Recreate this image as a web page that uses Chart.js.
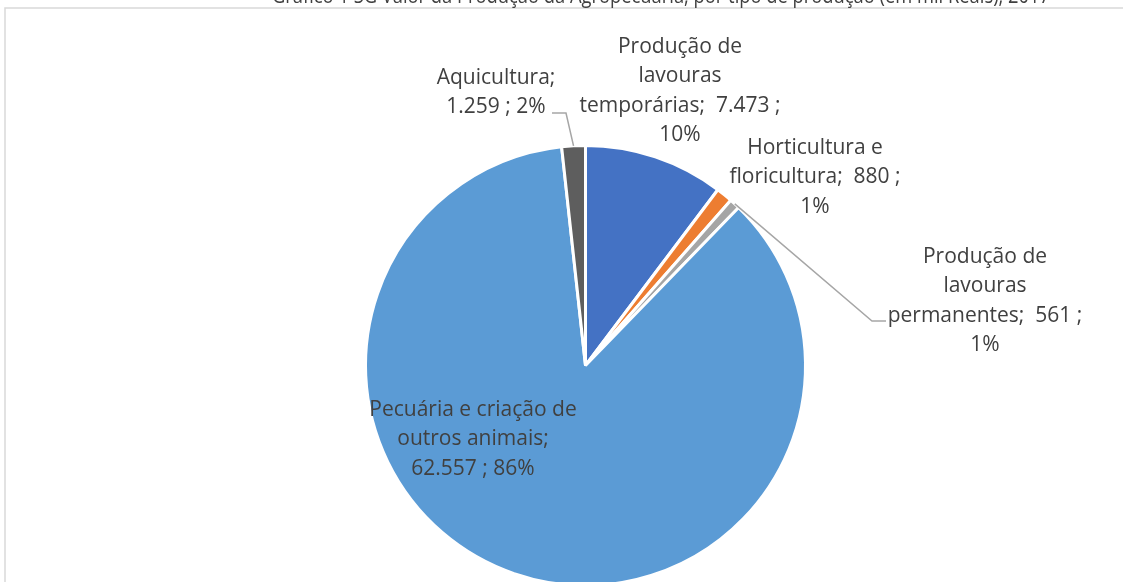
<!DOCTYPE html>
<html lang="pt-BR">
<head>
<meta charset="utf-8">
<title>Valor da Produção da Agropecuária 2017</title>
<script src="https://cdn.jsdelivr.net/npm/chart.js@4.4.1/dist/chart.umd.min.js"></script>
<style>
  html, body { margin: 0; padding: 0; background: #fff; overflow: hidden; }
  #wrap { position: relative; width: 1123px; height: 620px; }
</style>
</head>
<body>
<div id="wrap"><canvas id="chart"></canvas></div>
<script>
// Valor da produção (mil Reais), 2017
const categories = [
  'Produção de lavouras temporárias',
  'Horticultura e floricultura',
  'Produção de lavouras permanentes',
  'Pecuária e criação de outros animais',
  'Aquicultura'
];
const values = [7473, 880, 561, 62557, 1259];
const colors = ['#4472C4', '#ED7D31', '#A5A5A5', '#5B9BD5', '#5E5E5E'];

// how each data label is wrapped ({v} = value, {p} = percent)
const labelTemplates = [
  'Produção de\nlavouras\ntemporárias;  {v} ;\n{p}',
  'Horticultura e\nfloricultura;  {v} ;\n{p}',
  'Produção de\nlavouras\npermanentes;  {v} ;\n{p}',
  'Pecuária e criação de\noutros animais;\n{v} ; {p}',
  'Aquicultura;\n{v} ; {p}'
];
// where each label block sits (centre x, first line y) and its leader elbow
const labelSpots = [
  { x: 680, y: 47 },
  { x: 815, y: 148 },
  { x: 985, y: 257, leader: [[872, 321], [886, 321]] },
  { x: 473, y: 410 },
  { x: 496, y: 78, leader: [[566, 113], [552, 113]] }
];

const titleText = 'Gráfico 1 SG Valor da Produção da Agropecuária, por tipo de produção (em mil Reais), 2017';

const total = values.reduce((a, b) => a + b, 0);
const fmt = (n) => String(n).replace(/\B(?=(\d{3})+(?!\d))/g, '.');
const FONT = '"Open Sans", "Noto Sans", sans-serif';

const framePlugin = {
  id: 'frame',
  beforeDraw(chart) {
    const ctx = chart.ctx;
    ctx.save();
    ctx.strokeStyle = '#D9D9D9';
    ctx.lineWidth = 1.5;
    ctx.beginPath();
    ctx.moveTo(5, chart.height + 10);
    ctx.lineTo(5, 8);
    ctx.lineTo(chart.width + 10, 8);
    ctx.stroke();

    ctx.fillStyle = '#404040';
    ctx.font = '21px ' + FONT;
    ctx.textAlign = 'center';
    ctx.textBaseline = 'alphabetic';
    const w = ctx.measureText(titleText).width;
    ctx.translate(661, 3);
    ctx.scale(778 / w, 1);
    ctx.fillText(titleText, 0, 0);
    ctx.restore();
  }
};

const labelPlugin = {
  id: 'sliceLabels',
  afterDatasetsDraw(chart) {
    const ctx = chart.ctx;
    const meta = chart.getDatasetMeta(0);
    ctx.save();
    meta.data.forEach((arc, i) => {
      const spot = labelSpots[i];
      if (spot.leader) {
        const mid = (arc.startAngle + arc.endAngle) / 2;
        const r = arc.outerRadius;
        ctx.strokeStyle = '#A6A6A6';
        ctx.lineWidth = 1.5;
        ctx.beginPath();
        ctx.moveTo(arc.x + Math.cos(mid) * r, arc.y + Math.sin(mid) * r);
        spot.leader.forEach(([lx, ly]) => ctx.lineTo(lx, ly));
        ctx.stroke();
      }
      const pct = Math.round(values[i] / total * 100) + '%';
      const lines = labelTemplates[i].replace('{v}', fmt(values[i])).replace('{p}', pct).split('\n');
      ctx.fillStyle = '#404040';
      ctx.font = '21px ' + FONT;
      ctx.textAlign = 'center';
      ctx.textBaseline = 'middle';
      lines.forEach((line, k) => ctx.fillText(line, spot.x, spot.y + k * 29.5));
    });
    ctx.restore();
  }
};

new Chart(document.getElementById('chart'), {
  type: 'pie',
  data: {
    labels: categories,
    datasets: [{
      data: values,
      backgroundColor: colors,
      borderColor: '#FFFFFF',
      borderWidth: 3,
      hoverOffset: 0
    }]
  },
  options: {
    responsive: true,
    maintainAspectRatio: false,
    animation: false,
    layout: { padding: { left: 364, right: 316, top: 144, bottom: 33 } },
    plugins: {
      legend: { display: false },
      tooltip: { enabled: false },
      title: { display: false }
    }
  },
  plugins: [framePlugin, labelPlugin]
});
</script>
</body>
</html>
